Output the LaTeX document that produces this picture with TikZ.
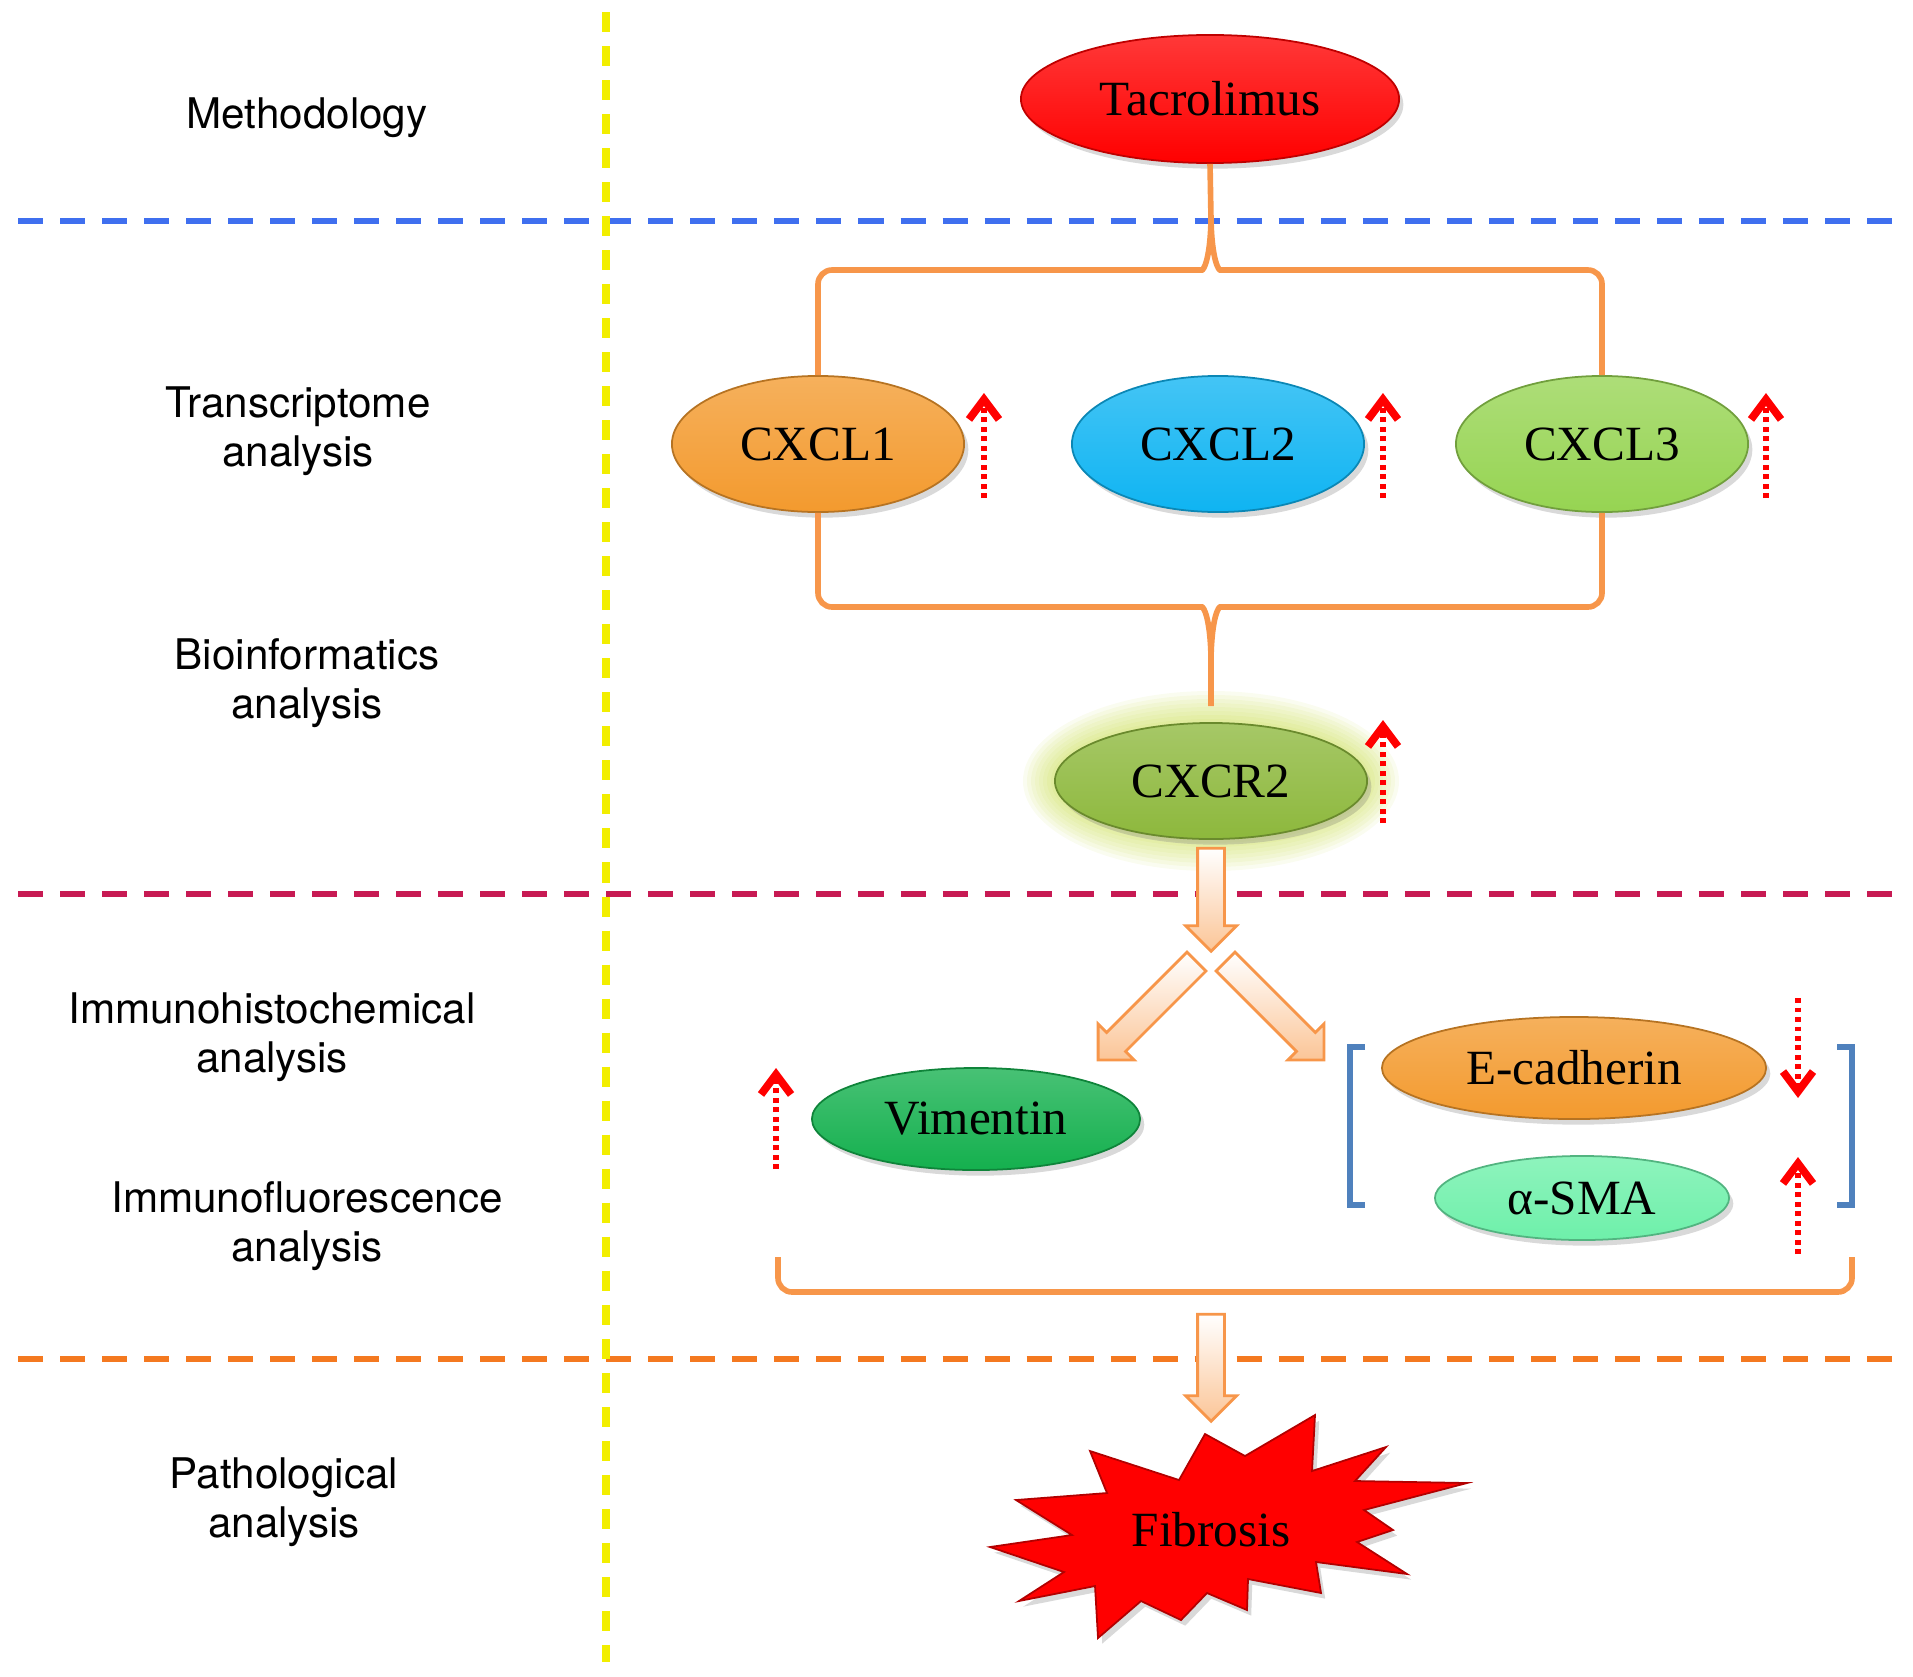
\documentclass[tikz,border=0pt]{standalone}
\usepackage{fontspec}
\setmainfont{Liberation Serif}
\newfontfamily\labelfont{TeX Gyre Heros}
\usetikzlibrary{arrows.meta,calc,shapes.geometric,shapes.arrows,shadows,positioning}

\definecolor{cxorange}{HTML}{F39A2E}
\definecolor{cxblue}{HTML}{0FB4F2}
\definecolor{cxgreen}{HTML}{96D452}
\definecolor{rcgreen}{HTML}{8DB83C}
\definecolor{vimgreen}{HTML}{14B04E}
\definecolor{smagreen}{HTML}{6EF0AA}
\definecolor{brorange}{HTML}{F7964A}
\definecolor{brblue}{HTML}{4F81BD}
\definecolor{lnblue}{HTML}{3F6FEF}
\definecolor{lncrimson}{HTML}{C71A53}
\definecolor{lnorange}{HTML}{F47920}
\definecolor{lnyellow}{HTML}{F2EE00}
\definecolor{peach}{HTML}{FBC597}

\begin{document}
\begin{tikzpicture}[x=0.01cm,y=-0.01cm,
  sep/.style={line width=1.5pt, dash pattern=on 0.25cm off 0.17cm},
  mol/.style={ellipse, inner sep=0pt, draw=#1!75!black, line width=0.5pt, top color=#1!78!white, bottom color=#1,
    font=\fontsize{14}{16}\selectfont, drop shadow={opacity=0.3, shadow xshift=1.2pt, shadow yshift=-1.6pt}},
  method/.style={align=center, font=\labelfont\fontsize{12}{14}\selectfont},
  brace/.style={draw=brorange, line width=1.6pt},
  fat/.style={single arrow, draw=brorange, line width=0.8pt, top color=white, bottom color=peach, inner sep=0.12cm,
    single arrow head extend=0.12cm, single arrow tip angle=90},
  up/.style={draw=red, line width=1.5pt, dash pattern=on 1.4pt off 1.3pt,
    -{Straight Barb[length=0.2cm,width=0.3cm,line width=2.2pt]}},
]
\useasboundingbox (0,0) rectangle (1913,1676);

\draw[sep, lnblue] (18,221) -- (1897,221);
\draw[sep, lncrimson] (18,894) -- (1897,894);
\draw[sep, lnorange] (18,1359) -- (1897,1359);
\draw[lnyellow, line width=2pt, dash pattern=on 0.2cm off 0.14cm] (606,12) -- (606,1662);

\node[method] (m0) at (307,118) {Methodology};
\node[method] (m1) at (298,431) {Transcriptome\\analysis};
\node[method] (m2) at (307,683) {Bioinformatics\\analysis};
\node[method] (m3) at (272,1037) {Immunohistochemical\\analysis};
\node[method] (m4) at (307,1226) {Immunofluorescence\\analysis};
\node[method] (m5) at (284,1502) {Pathological\\analysis};

\node[mol=red, minimum width=3.78cm, minimum height=1.28cm] (tac) at (1210,99) {Tacrolimus};
\node[mol=cxorange, minimum width=2.92cm, minimum height=1.36cm] (cxcl1) at (818,444) {CXCL1};
\node[mol=cxblue, minimum width=2.92cm, minimum height=1.36cm] (cxcl2) at (1218,444) {CXCL2};
\node[mol=cxgreen, minimum width=2.92cm, minimum height=1.36cm] (cxcl3) at (1602,444) {CXCL3};
\foreach \s in {1,...,8}
  \fill[rcgreen!60!yellow, opacity=0.07] (1211,781) ellipse ({156+4*\s} and {58+4*\s});
\node[mol=rcgreen, minimum width=3.12cm, minimum height=1.16cm] (cxcr2) at (1211,781) {CXCR2};
\node[mol=vimgreen, minimum width=3.28cm, minimum height=1.02cm] (vim) at (976,1119) {Vimentin};
\node[mol=cxorange, minimum width=3.84cm, minimum height=1.02cm] (ecad) at (1574,1068) {E-cadherin};
\node[mol=smagreen, minimum width=2.94cm, minimum height=0.84cm] (sma) at (1582,1198) {α-SMA};

\draw[brace] (cxcl1.north) [rounded corners=4pt] -- (cxcl1.north |- 0,270) -- (1188,270) [sharp corners]
  .. controls (1203,270) and (1210,262) .. (1211,220) -- (tac.south);
\draw[brace] (cxcl3.north) [rounded corners=4pt] -- (cxcl3.north |- 0,270) -- (1234,270) [sharp corners]
  .. controls (1219,270) and (1212,262) .. (1211,220);
\draw[brace] (cxcl1.south) [rounded corners=4pt] -- (cxcl1.south |- 0,607) -- (1188,607) [sharp corners]
  .. controls (1203,607) and (1210,615) .. (1211,657) -- ($(cxcr2.north)+(0,-16)$);
\draw[brace] (cxcl3.south) [rounded corners=4pt] -- (cxcl3.south |- 0,607) -- (1234,607) [sharp corners]
  .. controls (1219,607) and (1212,615) .. (1211,657);

\draw[up] ($(cxcl1.east)+(19,54)$) -- ++(0,-105);
\draw[up] ($(cxcl2.east)+(18,54)$) -- ++(0,-105);
\draw[up] ($(cxcl3.east)+(17,54)$) -- ++(0,-105);
\draw[up] ($(cxcr2.east)+(15,42)$) -- ++(0,-103);
\draw[up] ($(vim.west)+(-35,50)$) -- ++(0,-101);
\draw[up] ($(ecad.east)+(31,-70)$) -- ++(0,100);
\draw[up] ($(sma.east)+(68,56)$) -- ++(0,-97);

\node[fat, rotate=-90, minimum height=1.03cm] (f1) at (1211,893) {};
\node[fat, rotate=-135, minimum height=1.39cm] (f2) at (1152,1006) {};
\node[fat, rotate=-45, minimum height=1.39cm] (f3) at (1270,1006) {};

\coordinate (gl) at (1350,1047);
\coordinate (gr) at (1852,1047);
\draw[draw=brblue, line width=1.6pt] ($(gl)+(15,0)$) -- (gl) -- (gl |- 0,1205) -- ++(15,0);
\draw[draw=brblue, line width=1.6pt] ($(gr)+(-15,0)$) -- (gr) -- (gr |- 0,1205) -- ++(-15,0);

\coordinate (bl) at (778,1257);
\coordinate (br) at (1852,1257);
\draw[brace, rounded corners=4pt] (bl) -- (bl |- 0,1292) -- (br |- 0,1292) -- (br);

\node[fat, rotate=-90, minimum height=1.07cm] (f4) at (1211,1361) {};

\fill[red, draw=red!70!black, line width=0.5pt, drop shadow={opacity=0.3, shadow xshift=1.2pt, shadow yshift=-1.6pt}]
  (1205,1434) -- (1245,1456) -- (1315,1415) -- (1312,1471) -- (1386,1447) -- (1355,1481) -- (1467,1483)
  -- (1364,1510) -- (1393,1530) -- (1357,1542) -- (1407,1574) -- (1316,1562) -- (1321,1593) -- (1248,1579)
  -- (1247,1610) -- (1207,1593) -- (1181,1620) -- (1141,1601) -- (1098,1638) -- (1095,1586) -- (1019,1601)
  -- (1064,1572) -- (990,1547) -- (1072,1535) -- (1016,1500) -- (1107,1493) -- (1090,1451) -- (1179,1480) -- cycle;
\node[font=\fontsize{14}{16}\selectfont] (fib) at (1211,1530) {Fibrosis};
\end{tikzpicture}
\end{document}
